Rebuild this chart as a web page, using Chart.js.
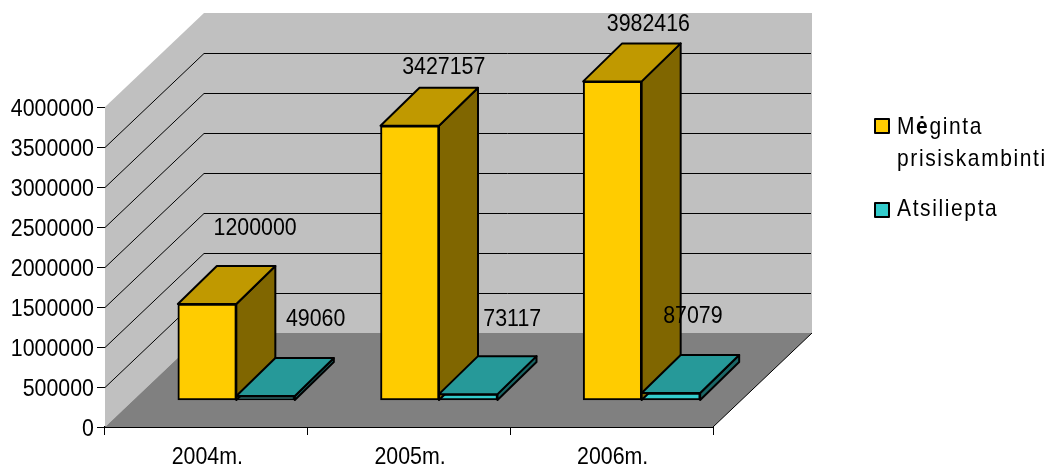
<!DOCTYPE html>
<html>
<head>
<meta charset="utf-8">
<style>
  html, body { margin: 0; padding: 0; background: #fff; overflow: hidden; }
  #wrap { position: relative; width: 1047px; height: 468px; }
  #chart { position: absolute; left: 0; top: 0; }
  .leg { position: absolute; font-family: "Liberation Sans", sans-serif; font-size: 24px; color: #000; white-space: nowrap; letter-spacing: 1.85px; line-height: 32px; transform: scaleX(0.875); transform-origin: left top; }
  .leg b { font-weight: bold; }
  .swatch { position: absolute; width: 12px; height: 12px; border: 2px solid #000; border-radius: 1px; }
</style>
</head>
<body>
<div id="wrap">
  <canvas id="chart" width="1047" height="468"></canvas>
  <div class="swatch" style="left:874px;top:118px;background:#ffcc00"></div>
  <div class="leg" style="left:897px;top:110px">M<b>ė</b>ginta<br>prisiskambinti</div>
  <div class="swatch" style="left:874px;top:202px;background:#33cccc"></div>
  <div class="leg" style="left:897px;top:192px">Atsiliepta</div>
</div>
<script src="https://cdn.jsdelivr.net/npm/chart.js@4"></script>
<script>
const years = ['2004m.', '2005m.', '2006m.'];
const tried = [1200000, 3427157, 3982416];
const answered = [49060, 73117, 87079];
const gridValues = [500000, 1000000, 1500000, 2000000, 2500000, 3000000, 3500000];

const FONT = '24px "Liberation Sans", sans-serif';
const SQUEEZE = 0.89;            // the original type is a condensed Arial

// depth of the box: back wall and bars
const WALL = { dx: 99, dy: -94 };
const BAR = { dx: 39, dy: -38 };
const SHIFT_X = 30 / 202.67;     // bars sit further back on the floor than the axis
const SHIFT_Y = 337500;

// label nudges from the top-centre of each bar
const labelNudge = [
  [[48, -76], [34, -58], [36, -57]],
  [[50, -77], [44, -75], [22, -77]],
];

const shades = [
  { top: '#c09900', side: '#806600' },
  { top: '#269999', side: '#1a6666' },
];

function poly(ctx, pts, fill, stroke, lw) {
  ctx.beginPath();
  pts.forEach((p, i) => i ? ctx.lineTo(p[0], p[1]) : ctx.moveTo(p[0], p[1]));
  ctx.closePath();
  if (fill) { ctx.fillStyle = fill; ctx.fill(); }
  if (stroke) { ctx.strokeStyle = stroke; ctx.lineWidth = lw; ctx.lineJoin = 'round'; ctx.stroke(); }
}

function narrowText(ctx, str, x, y, align) {
  ctx.save();
  ctx.translate(x, y);
  ctx.scale(SQUEEZE, 1);
  ctx.font = FONT;
  ctx.fillStyle = '#000';
  ctx.textAlign = align;
  ctx.textBaseline = 'middle';
  ctx.fillText(str, 0, 0);
  ctx.restore();
}

const box3d = {
  id: 'box3d',
  beforeDatasetsDraw(chart) {
    const { ctx, chartArea: a, scales } = chart;
    const y = scales.y;
    const { dx, dy } = WALL;
    ctx.save();
    // side wall, back wall, floor
    poly(ctx, [[a.left, a.bottom], [a.left + dx, a.bottom + dy], [a.left + dx, a.top + dy], [a.left, a.top]], '#c0c0c0');
    poly(ctx, [[a.left + dx, a.top + dy], [a.right + dx, a.top + dy], [a.right + dx, a.bottom + dy], [a.left + dx, a.bottom + dy]], '#c0c0c0');
    poly(ctx, [[a.left, a.bottom], [a.right, a.bottom], [a.right + dx, a.bottom + dy], [a.left + dx, a.bottom + dy]], '#808080');
    // grid on both walls
    ctx.strokeStyle = '#000';
    ctx.lineWidth = 1;
    ctx.beginPath();
    gridValues.forEach(v => {
      const py = Math.round(y.getPixelForValue(v)) + 0.5;
      ctx.moveTo(a.left, py);
      ctx.lineTo(a.left + dx, py + dy);
      ctx.lineTo(a.right + dx - 1, py + dy);
    });
    ctx.moveTo(a.right, a.bottom);
    ctx.lineTo(a.right + dx, a.bottom + dy);
    ctx.stroke();
    ctx.restore();
  },
  afterDatasetsDraw(chart) {
    const { ctx, scales } = chart;
    ctx.save();
    years.forEach((_, i) => {
      chart.data.datasets.forEach((ds, d) => {
        const b = chart.getDatasetMeta(d).data[i].getProps(['x', 'y', 'base', 'width'], true);
        const l = b.x - b.width / 2, r = b.x + b.width / 2;
        poly(ctx, [[r, b.y], [r + BAR.dx, b.y + BAR.dy], [r + BAR.dx, b.base + BAR.dy], [r, b.base]], shades[d].side, '#000', 2);
        poly(ctx, [[l, b.y], [l + BAR.dx, b.y + BAR.dy], [r + BAR.dx, b.y + BAR.dy], [r, b.y]], shades[d].top, '#000', 2);
      });
    });
    // value labels
    chart.data.datasets.forEach((ds, d) => {
      ds.data.forEach((pt, i) => {
        const b = chart.getDatasetMeta(d).data[i];
        const n = labelNudge[d][i];
        narrowText(ctx, String(pt.y), b.x + n[0], b.y + n[1], 'center');
      });
    });
    // axis labels, squeezed the same way
    scales.y.ticks.forEach((t, i) => narrowText(ctx, String(t.value), 94, scales.y.getPixelForTick(i) + 2, 'right'));
    scales.x.ticks.forEach((t, i) => narrowText(ctx, years[i], scales.x.getPixelForTick(i) + 1, 457, 'center'));
    ctx.restore();
  },
};

new Chart(document.getElementById('chart'), {
  type: 'bar',
  data: {
    labels: years,
    datasets: [
      { label: 'Mėginta prisiskambinti', data: tried.map((v, i) => ({ x: i, y: v })), xAxisID: 'xb', yAxisID: 'yb', backgroundColor: '#ffcc00', borderColor: '#000', borderWidth: 2, borderSkipped: false, barThickness: 58.5, clip: false },
      { label: 'Atsiliepta', data: answered.map((v, i) => ({ x: i, y: v })), xAxisID: 'xb', yAxisID: 'yb', backgroundColor: '#33cccc', borderColor: '#000', borderWidth: 2, borderSkipped: false, barThickness: 58.5, clip: false },
    ],
  },
  options: {
    animation: false, responsive: false,
    layout: { padding: { left: 0, right: 334, top: 107, bottom: 0 } },
    plugins: { legend: { display: false }, tooltip: { enabled: false } },
    scales: {
      x: {
        type: 'category', labels: years, offset: true,
        grid: { drawOnChartArea: false, offset: true, color: '#000', tickLength: 8, lineWidth: 1 },
        border: { color: '#000', width: 2 },
        ticks: { display: false },
        afterFit: s => { s.height = 41; },
      },
      y: {
        min: 0, max: 4000000,
        grid: { drawOnChartArea: false, color: '#000', tickLength: 8, lineWidth: 1 },
        border: { color: '#000', width: 1 },
        ticks: { stepSize: 500000, display: false },
        afterFit: s => { s.width = 105; },
      },
      // hidden axes the bars hang on: same pixel range, moved back onto the floor
      xb: { type: 'linear', display: false, offset: false, min: -0.5 - SHIFT_X, max: 2.5 - SHIFT_X },
      yb: { display: false, min: -SHIFT_Y, max: 4000000 - SHIFT_Y },
    },
  },
  plugins: [box3d],
});
</script>
</body>
</html>
